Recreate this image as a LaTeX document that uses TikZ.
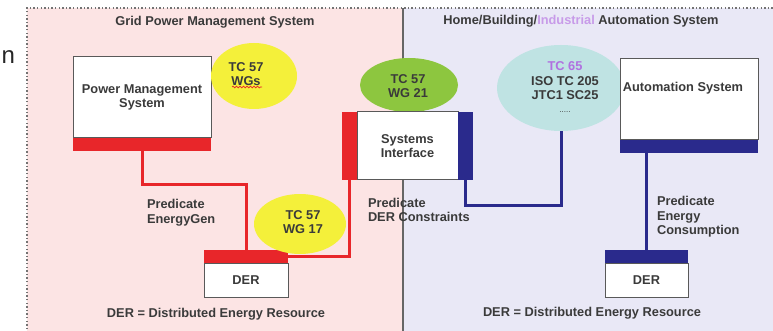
\documentclass[tikz,border=0pt]{standalone}
\usepackage{fontspec}
\setmainfont{Liberation Sans}
\usetikzlibrary{shapes.geometric,decorations.pathmorphing}
\definecolor{gridpink}{HTML}{FCE4E4}
\definecolor{homelav}{HTML}{E9E8F6}
\definecolor{linkred}{HTML}{E8262A}
\definecolor{linkblue}{HTML}{2A2A8C}
\definecolor{wgyellow}{HTML}{F4F03A}
\definecolor{wggreen}{HTML}{8DC63F}
\definecolor{wgcyan}{HTML}{BFE3E3}
\definecolor{inktext}{HTML}{3A3A3A}
\definecolor{tcviolet}{HTML}{B070E0}
\begin{document}
\begin{tikzpicture}[x=1pt,y=-1pt,
  every node/.style={inner sep=0pt,outer sep=0pt,text=inktext,
    font=\fontsize{12.8}{14.5}\selectfont\bfseries},
  sysbox/.style={draw=black!65,line width=1pt,fill=white,
    minimum width=#1,align=center},
  barnode/.style={minimum width=#1,minimum height=13.5pt},
  redlink/.style={draw=linkred,line width=3pt},
  bluelink/.style={draw=linkblue,line width=3pt},
  wgblob/.style={ellipse,minimum width=#1},
  note/.style={align=left,anchor=west},
  panelframe/.style={draw=black!55,line width=1.2pt,dash pattern=on 1.4pt off 2.2pt}]
\useasboundingbox (0,0) rectangle (773,331);

% panels
\fill[gridpink] (27,8) rectangle (403,340);
\fill[homelav] (403,8) rectangle (780,340);
\draw[panelframe] (27,340) -- (27,8) -- (780,8);
\draw[black!60,line width=1.3pt] (403,8) -- (403,340);

% fragment of a word at the left edge
\node[anchor=base east,font=\fontsize{24}{24}\selectfont,text=black!85] (frag) at (15,64) {n};

% titles
\node (gridtitle) at (215,22) {Grid Power Management System};
\node (hometitle) at (581,21) {Home/Building/{\color{tcviolet!70}Industrial} Automation System};

% power management system
\node[sysbox=138pt,minimum height=81pt] (pms) at (142,97.5) {Power Management\\System};
\node[barnode=138pt,fill=linkred,anchor=north] (pmsbar) at (pms.south) {};

% TC 57 WGs
\node[wgblob=86pt,minimum height=66pt,fill=wgyellow] (wgs) at (254,76) {};
\node[align=center] (wgstext) at (246,74) {TC 57\\WGs};
\draw[linkred,line width=0.7pt,decorate,decoration={snake,amplitude=0.9pt,segment length=3.5pt}]
  (232,87) -- (262,87);

% systems interface
\node[wgblob=98pt,minimum height=54pt,fill=wggreen] (wg21) at (409,85) {};
\node[align=center] (wg21text) at (408,86) {TC 57\\WG 21};
\node[sysbox=101pt,minimum height=68pt] (si) at (407.5,146) {Systems\\Interface};
\node[barnode=15pt,minimum height=68pt,fill=linkred,anchor=east] (sired) at (si.west) {};
\node[barnode=15pt,minimum height=68pt,fill=linkblue,anchor=west] (siblue) at (si.east) {};

% left DER
\node[sysbox=84pt,minimum height=34pt] (derl) at (246,280) {DER};
\node[barnode=84pt,fill=linkred,anchor=south] (derlbar) at (derl.north) {};

% TC 57 WG 17
\node[wgblob=92pt,minimum height=60pt,fill=wgyellow] (wg17) at (300,224) {};
\node[align=center] (wg17text) at (303,222) {TC 57\\WG 17};

% red links
\draw[redlink] (pmsbar.south) -- ++(0,33) -| (derlbar.north);
\draw[redlink] (derlbar.east) -| (sired.south);

% labels on the left
\node[note] (energygen) at (147,212.5) {Predicate\\EnergyGen};
\node[note] (derconstr) at (368,210) {Predicate\\DER Constraints};
\node (legendl) at (216,314) {DER = Distributed Energy Resource};

% TC 65 and friends
\node[wgblob=128pt,minimum height=86pt,fill=wgcyan] (tc65) at (561,88) {};
\node[align=center] (tc65text) at (565,87) {{\color{tcviolet}TC 65}\\ISO TC 205\\JTC1 SC25\\[-2pt]{\fontsize{8}{8}\selectfont\mdseries .....}};

% automation system
\node[sysbox=138pt,minimum height=81pt] (as) at (689,99.5) {};
\node (astext) at (683,88) {Automation System};
\node[barnode=138pt,fill=linkblue,anchor=north] (asbar) at (as.south) {};

% right DER
\node[sysbox=83pt,minimum height=34pt] (derr) at (646.5,280) {DER};
\node[barnode=83pt,fill=linkblue,anchor=south] (derrbar) at (derr.north) {};

% blue links
\draw[bluelink] (siblue.south) -- ++(0,25) -| (tc65.south);
\draw[bluelink] (asbar.south -| derrbar.north) -- (derrbar.north);

% labels on the right
\node[note] (energycons) at (657,217) {Predicate\\Energy\\Consumption};
\node (legendr) at (592,313) {DER = Distributed Energy Resource};
\end{tikzpicture}
\end{document}
